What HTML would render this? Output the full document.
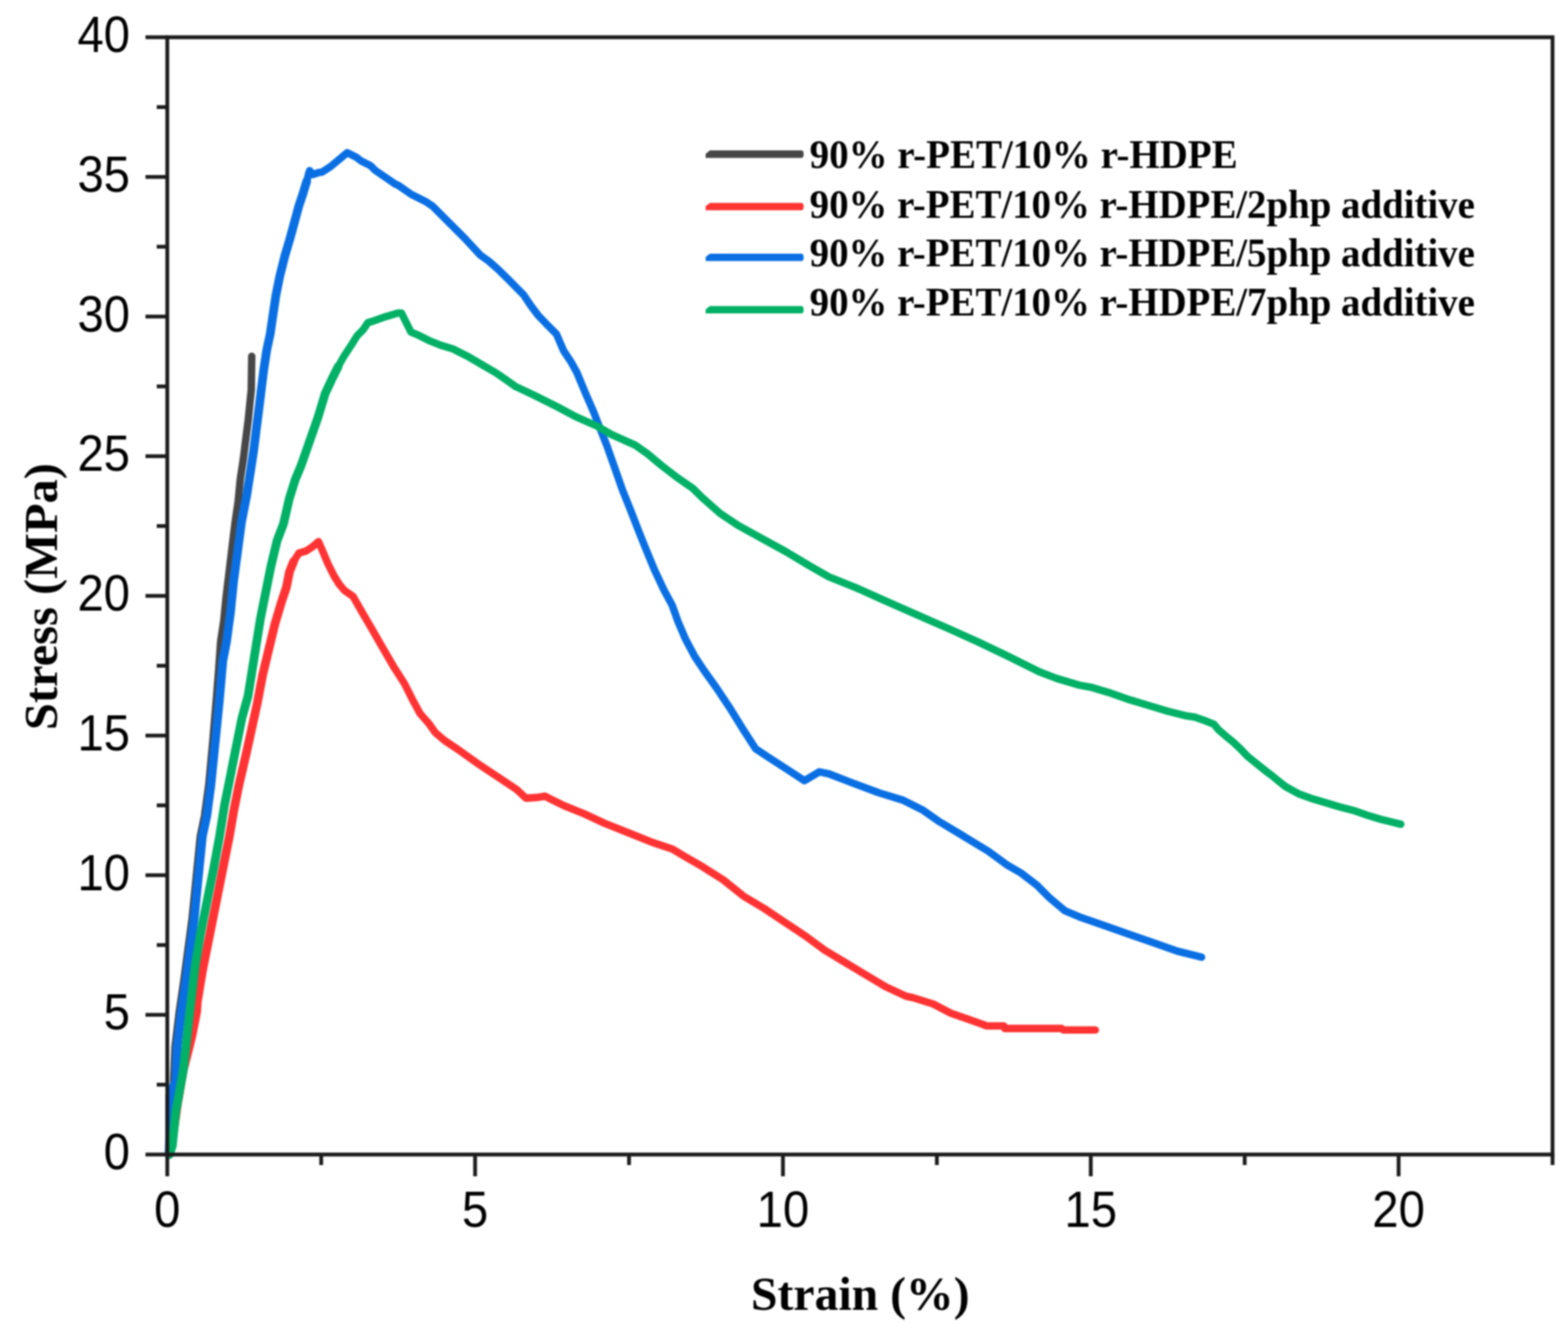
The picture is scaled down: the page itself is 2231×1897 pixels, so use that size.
<!DOCTYPE html>
<html><head><meta charset="utf-8"><title>Stress-strain curves</title>
<style>
html,body{margin:0;padding:0;background:#fff;width:2231px;height:1897px;overflow:hidden}
svg{display:block}
.tk{font-family:"Liberation Sans",Arial,sans-serif;font-size:68px;fill:#000}
.ttl{font-family:"Liberation Serif","Times New Roman",serif;font-weight:bold;font-size:67px;fill:#000}
.lg{font-family:"Liberation Serif","Times New Roman",serif;font-weight:bold;font-size:56px;fill:#000}
</style></head><body>
<svg width="2231" height="1897" viewBox="0 0 2231 1897">
<rect width="2231" height="1897" fill="#fff"/>
<defs><filter id="soft" filterUnits="userSpaceOnUse" x="0" y="0" width="2231" height="1897" color-interpolation-filters="sRGB"><feGaussianBlur stdDeviation="1"/></filter></defs>
<g filter="url(#soft)">

<g fill="none" stroke-linejoin="round" stroke-linecap="round">
<polyline stroke="#474747" stroke-width="10.6" points="240.0,1643.0 243.0,1600.0 247.0,1540.0 249.0,1490.0 255.0,1440.0 261.4,1396.5 267.3,1352.2 273.2,1308.0 279.1,1249.0 285.0,1190.0 291.0,1161.0 297.0,1117.0 302.5,1058.0 307.5,999.0 311.0,954.7 314.0,912.5 318.3,884.0 321.8,848.7 326.1,813.0 330.3,778.0 334.6,742.5 338.8,714.0 341.8,682.5 346.1,654.1 349.6,625.8 353.2,597.5 356.0,569.2 357.5,555.0 358.2,507.0"/>
<polyline stroke="#ff3333" stroke-width="10.6" points="241.0,1643.0 246.0,1615.0 250.0,1589.0 252.5,1571.0 260.8,1523.0 272.7,1475.7 279.8,1440.0 280.7,1426.0 288.0,1381.7 296.9,1337.5 307.2,1285.9 317.5,1234.2 326.4,1190.0 332.6,1153.9 340.0,1117.0 350.3,1072.7 360.0,1028.5 366.2,1000.0 373.6,961.0 382.4,924.2 391.3,887.4 400.1,857.9 407.5,835.8 411.9,813.7 417.8,799.0 425.2,787.2 435.5,784.2 444.3,778.3 453.2,770.9 459.0,784.2 466.4,801.9 475.3,819.6 482.6,831.4 490.0,840.2 502.4,848.8 516.0,872.7 528.0,893.1 541.6,916.9 560.3,949.2 575.6,973.0 585.8,993.4 597.7,1015.5 609.6,1028.9 619.3,1042.4 632.8,1054.0 650.1,1065.5 677.1,1084.8 706.0,1104.1 734.9,1123.4 748.4,1135.9 763.9,1134.9 775.4,1133.0 783.1,1136.9 802.4,1146.5 831.3,1158.1 860.2,1171.6 898.8,1187.0 927.7,1198.6 956.6,1208.2 975.9,1219.8 1000.0,1233.7 1028.9,1252.0 1057.8,1275.2 1086.7,1292.5 1115.7,1311.8 1144.6,1331.1 1173.5,1352.3 1202.4,1369.6 1231.3,1387.0 1260.2,1404.3 1289.2,1417.8 1298.8,1419.8 1327.7,1428.8 1353.1,1442.0 1376.3,1450.1 1399.4,1458.2 1404.0,1460.0 1428.3,1460.0 1429.5,1463.6 1510.4,1463.6 1512.7,1465.7 1558.5,1465.7"/>
<path stroke="#ff3333" stroke-width="12.4" d="M241.0,1643.0L246.0,1615.0M246.0,1615.0L250.0,1589.0M250.0,1589.0L252.5,1571.0M252.5,1571.0L260.8,1523.0M260.8,1523.0L272.7,1475.7M272.7,1475.7L279.8,1440.0M279.8,1440.0L280.7,1426.0M280.7,1426.0L288.0,1381.7M288.0,1381.7L296.9,1337.5M296.9,1337.5L307.2,1285.9M307.2,1285.9L317.5,1234.2M317.5,1234.2L326.4,1190.0M326.4,1190.0L332.6,1153.9M332.6,1153.9L340.0,1117.0M340.0,1117.0L350.3,1072.7M350.3,1072.7L360.0,1028.5M360.0,1028.5L366.2,1000.0M366.2,1000.0L373.6,961.0M373.6,961.0L382.4,924.2M382.4,924.2L391.3,887.4M391.3,887.4L400.1,857.9M400.1,857.9L407.5,835.8M407.5,835.8L411.9,813.7M411.9,813.7L417.8,799.0"/>
<polyline stroke="#0a6fe3" stroke-width="10.6" points="240.5,1643.0 241.5,1612.0 241.5,1560.0 250.0,1538.0 252.0,1490.0 258.0,1440.0 264.4,1396.5 270.3,1352.2 276.2,1308.0 282.1,1249.0 288.0,1190.0 294.2,1161.2 300.1,1117.0 306.0,1058.0 311.9,999.0 317.1,940.0 322.4,912.5 328.1,870.0 332.3,827.5 338.0,785.0 343.7,742.5 351.0,705.0 356.8,668.3 361.1,640.0 364.6,611.6 368.2,583.3 371.7,555.0 375.2,526.7 379.5,498.3 384.5,475.0 388.2,449.6 392.4,421.3 398.1,392.9 405.2,364.6 412.3,340.5 419.3,315.0 425.0,293.8 430.7,276.8 436.3,258.3 439.2,247.0 440.6,242.8 444.8,248.4 453.3,245.6 458.0,245.0 470.4,237.0 484.1,225.7 494.0,217.3 506.9,223.8 513.6,228.9 527.2,235.7 534.0,242.5 561.2,261.2 568.0,264.6 585.0,276.5 605.4,286.7 615.6,293.5 636.1,313.9 661.6,339.5 683.7,363.3 695.6,371.8 710.9,385.4 721.1,395.6 744.9,419.4 755.1,434.7 765.3,448.3 779.9,463.6 791.8,475.5 802.0,499.3 812.2,514.6 820.7,529.9 832.7,558.8 844.6,586.1 853.1,608.2 863.3,633.7 873.5,662.6 885.4,696.6 897.0,725.5 908.9,756.1 919.1,781.6 931.0,810.5 944.6,839.5 956.5,861.6 965.0,885.4 975.2,909.2 988.8,934.7 1002.4,955.1 1019.4,978.9 1038.6,1007.8 1057.8,1038.7 1075.2,1065.7 1092.5,1077.2 1119.5,1094.6 1144.6,1111.0 1165.8,1098.4 1179.3,1101.3 1212.0,1113.9 1250.6,1128.3 1285.3,1138.9 1312.3,1152.4 1337.3,1169.8 1366.3,1187.1 1380.0,1195.6 1406.0,1211.2 1432.0,1230.3 1452.9,1242.5 1475.4,1259.8 1492.8,1277.2 1504.9,1287.6 1515.3,1296.2 1536.1,1304.9 1570.8,1317.1 1605.5,1329.2 1640.2,1341.3 1674.9,1353.5 1709.6,1362.2"/>
<path stroke="#0a6fe3" stroke-width="12.4" d="M240.5,1643.0L241.5,1612.0M241.5,1612.0L241.5,1560.0M241.5,1560.0L250.0,1538.0M250.0,1538.0L252.0,1490.0M252.0,1490.0L258.0,1440.0M258.0,1440.0L264.4,1396.5M264.4,1396.5L270.3,1352.2M270.3,1352.2L276.2,1308.0M276.2,1308.0L282.1,1249.0M282.1,1249.0L288.0,1190.0M288.0,1190.0L294.2,1161.2M294.2,1161.2L300.1,1117.0M300.1,1117.0L306.0,1058.0M306.0,1058.0L311.9,999.0M311.9,999.0L317.1,940.0M317.1,940.0L322.4,912.5M322.4,912.5L328.1,870.0M328.1,870.0L332.3,827.5M332.3,827.5L338.0,785.0M338.0,785.0L343.7,742.5M343.7,742.5L351.0,705.0M351.0,705.0L356.8,668.3M356.8,668.3L361.1,640.0M361.1,640.0L364.6,611.6M364.6,611.6L368.2,583.3M368.2,583.3L371.7,555.0M371.7,555.0L375.2,526.7M375.2,526.7L379.5,498.3M379.5,498.3L384.5,475.0M384.5,475.0L388.2,449.6M388.2,449.6L392.4,421.3M392.4,421.3L398.1,392.9M398.1,392.9L405.2,364.6M405.2,364.6L412.3,340.5M412.3,340.5L419.3,315.0M419.3,315.0L425.0,293.8M425.0,293.8L430.7,276.8M430.7,276.8L436.3,258.3"/>
<polyline stroke="#02b066" stroke-width="10.6" points="241.0,1643.0 245.3,1630.0 250.0,1583.0 260.8,1523.0 270.0,1440.0 277.7,1374.4 285.1,1330.1 293.9,1285.9 304.3,1234.2 312.4,1190.0 319.3,1146.5 326.7,1109.6 335.5,1065.4 344.4,1021.1 352.9,990.5 358.8,953.7 364.7,916.8 370.6,880.0 378.0,843.2 385.4,806.3 394.2,769.5 403.5,745.0 411.6,709.7 420.1,682.4 428.6,662.0 440.5,628.0 452.4,594.0 462.7,560.0 472.5,539.0 481.0,522.0 489.5,506.7 499.7,491.4 508.2,477.8 516.7,469.3 523.5,459.1 532.0,456.6 549.0,450.6 566.0,445.5 571.2,445.5 578.0,459.1 584.8,472.7 593.3,476.1 610.3,484.6 627.3,491.4 644.3,496.5 664.7,506.7 685.1,518.6 705.5,530.5 717.0,538.4 734.0,550.3 759.5,562.2 793.5,579.3 819.0,592.9 849.7,606.5 870.1,618.4 904.1,633.7 921.1,645.6 941.5,662.6 963.6,679.6 985.7,694.9 999.0,708.0 1024.6,730.6 1050.1,747.6 1084.1,766.3 1118.1,785.0 1152.1,805.4 1179.3,820.8 1217.8,836.3 1256.4,853.6 1304.6,874.8 1352.8,896.0 1391.3,913.4 1433.7,933.6 1478.1,955.8 1503.1,965.4 1535.9,975.1 1553.5,978.3 1580.5,986.4 1607.5,995.9 1634.5,1004.0 1661.4,1012.1 1688.4,1018.8 1700.0,1020.5 1713.6,1025.2 1727.2,1030.6 1734.0,1038.8 1744.2,1047.6 1754.4,1055.8 1764.6,1065.3 1774.8,1076.2 1788.4,1087.1 1802.0,1098.0 1810.0,1104.0 1819.6,1111.8 1829.3,1119.5 1848.6,1130.1 1867.8,1136.9 1887.1,1142.7 1906.4,1148.4 1925.7,1153.3 1944.9,1160.0 1964.2,1165.8 1983.5,1170.6 1993.1,1173.0"/>
<path stroke="#02b066" stroke-width="12.4" d="M241.0,1643.0L245.3,1630.0M245.3,1630.0L250.0,1583.0M250.0,1583.0L260.8,1523.0M260.8,1523.0L270.0,1440.0M270.0,1440.0L277.7,1374.4M277.7,1374.4L285.1,1330.1M285.1,1330.1L293.9,1285.9M293.9,1285.9L304.3,1234.2M304.3,1234.2L312.4,1190.0M312.4,1190.0L319.3,1146.5M319.3,1146.5L326.7,1109.6M326.7,1109.6L335.5,1065.4M335.5,1065.4L344.4,1021.1M344.4,1021.1L352.9,990.5M352.9,990.5L358.8,953.7M358.8,953.7L364.7,916.8M364.7,916.8L370.6,880.0M370.6,880.0L378.0,843.2M378.0,843.2L385.4,806.3M385.4,806.3L394.2,769.5M394.2,769.5L403.5,745.0M403.5,745.0L411.6,709.7M411.6,709.7L420.1,682.4M420.1,682.4L428.6,662.0M428.6,662.0L440.5,628.0M440.5,628.0L452.4,594.0M452.4,594.0L462.7,560.0M462.7,560.0L472.5,539.0M472.5,539.0L481.0,522.0"/>
</g>
<g stroke="#1c1c1c" stroke-width="5.4" fill="none" stroke-linecap="butt">
<path d="M238.0,1643.0 H2209.0 V53.0 H238.0 Z"/>
<path d="M207.0,1643.0 H238.0"/>
<path d="M207.0,1444.2 H238.0"/>
<path d="M207.0,1245.5 H238.0"/>
<path d="M207.0,1046.8 H238.0"/>
<path d="M207.0,848.0 H238.0"/>
<path d="M207.0,649.2 H238.0"/>
<path d="M207.0,450.5 H238.0"/>
<path d="M207.0,251.8 H238.0"/>
<path d="M207.0,53.0 H238.0"/>
<path d="M223.0,1543.6 H238.0"/>
<path d="M223.0,1344.9 H238.0"/>
<path d="M223.0,1146.1 H238.0"/>
<path d="M223.0,947.4 H238.0"/>
<path d="M223.0,748.6 H238.0"/>
<path d="M223.0,549.9 H238.0"/>
<path d="M223.0,351.1 H238.0"/>
<path d="M223.0,152.4 H238.0"/>
<path d="M238.0,1643.0 V1674.0"/>
<path d="M676.0,1643.0 V1674.0"/>
<path d="M1114.0,1643.0 V1674.0"/>
<path d="M1552.0,1643.0 V1674.0"/>
<path d="M1990.0,1643.0 V1674.0"/>
<path d="M457.0,1643.0 V1658.0"/>
<path d="M895.0,1643.0 V1658.0"/>
<path d="M1333.0,1643.0 V1658.0"/>
<path d="M1771.0,1643.0 V1658.0"/>
<path d="M2209.0,1643.0 V1658.0"/>
</g>
<text class="tk" transform="translate(185,1664.0) scale(0.99,1.05)" text-anchor="end">0</text>
<text class="tk" transform="translate(185,1465.2) scale(0.99,1.05)" text-anchor="end">5</text>
<text class="tk" transform="translate(185,1266.5) scale(0.99,1.05)" text-anchor="end">10</text>
<text class="tk" transform="translate(185,1067.8) scale(0.99,1.05)" text-anchor="end">15</text>
<text class="tk" transform="translate(185,869.0) scale(0.99,1.05)" text-anchor="end">20</text>
<text class="tk" transform="translate(185,670.2) scale(0.99,1.05)" text-anchor="end">25</text>
<text class="tk" transform="translate(185,471.5) scale(0.99,1.05)" text-anchor="end">30</text>
<text class="tk" transform="translate(185,272.8) scale(0.99,1.05)" text-anchor="end">35</text>
<text class="tk" transform="translate(185,74.0) scale(0.99,1.05)" text-anchor="end">40</text>
<text class="tk" transform="translate(238.0,1746.5) scale(0.99,1.06)" text-anchor="middle">0</text>
<text class="tk" transform="translate(676.0,1746.5) scale(0.99,1.06)" text-anchor="middle">5</text>
<text class="tk" transform="translate(1114.0,1746.5) scale(0.99,1.06)" text-anchor="middle">10</text>
<text class="tk" transform="translate(1552.0,1746.5) scale(0.99,1.06)" text-anchor="middle">15</text>
<text class="tk" transform="translate(1990.0,1746.5) scale(0.99,1.06)" text-anchor="middle">20</text>
<text class="ttl" x="1224" y="1864" text-anchor="middle" textLength="311" lengthAdjust="spacingAndGlyphs">Strain (%)</text>
<text class="ttl" transform="translate(81,849) rotate(-90)" x="0" y="0" text-anchor="middle" textLength="380" lengthAdjust="spacingAndGlyphs">Stress (MPa)</text>
<path d="M1004,224.7 V218.9 L1010,214.1 H1140 Q1143.5,214.1 1143.5,219.4 Q1143.5,224.7 1140,224.7 Z" fill="#474747"/>
<text class="lg" x="1152" y="239" textLength="609" lengthAdjust="spacingAndGlyphs">90% r-PET/10% r-HDPE</text>
<path d="M1004,299.3 V293.5 L1010,288.7 H1140 Q1143.5,288.7 1143.5,294.0 Q1143.5,299.3 1140,299.3 Z" fill="#ff3333"/>
<text class="lg" x="1152" y="309.5" textLength="946.5" lengthAdjust="spacingAndGlyphs">90% r-PET/10% r-HDPE/2php additive</text>
<path d="M1004,371.5 V365.7 L1010,360.9 H1140 Q1143.5,360.9 1143.5,366.2 Q1143.5,371.5 1140,371.5 Z" fill="#0a6fe3"/>
<text class="lg" x="1152" y="379" textLength="946.5" lengthAdjust="spacingAndGlyphs">90% r-PET/10% r-HDPE/5php additive</text>
<path d="M1004,446.1 V440.3 L1010,435.5 H1140 Q1143.5,435.5 1143.5,440.8 Q1143.5,446.1 1140,446.1 Z" fill="#02b066"/>
<text class="lg" x="1152" y="449.4" textLength="946.5" lengthAdjust="spacingAndGlyphs">90% r-PET/10% r-HDPE/7php additive</text>
</g>
</svg>
</body></html>
